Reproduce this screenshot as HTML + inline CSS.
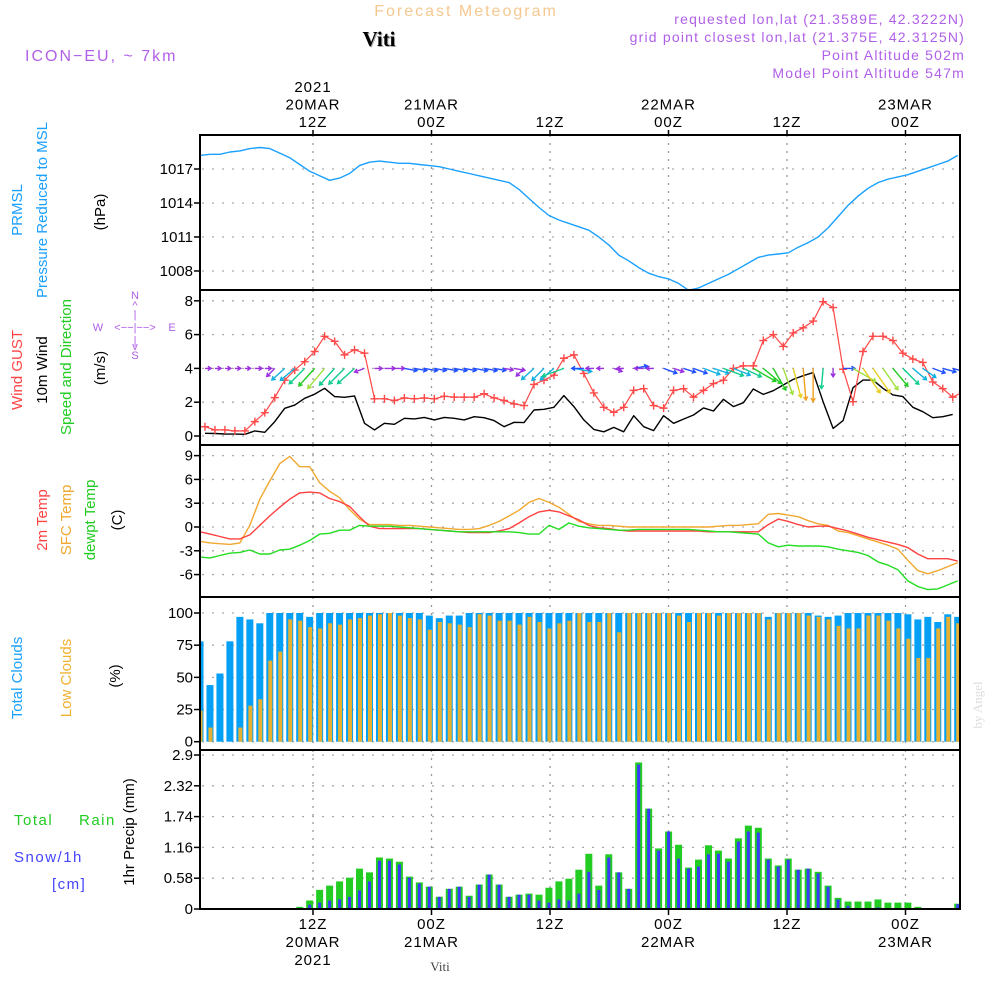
<!DOCTYPE html>
<html><head><meta charset="utf-8">
<style>
html,body{margin:0;padding:0;background:#fff;}
svg{display:block;}
text{font-family:"Liberation Sans",sans-serif;}
</style></head>
<body>
<svg id="chart" xmlns="http://www.w3.org/2000/svg" width="1000" height="1000" viewBox="0 0 1000 1000">
<defs>
<clipPath id="plotclip"><rect x="200" y="135" width="760" height="774"/></clipPath>
</defs>
<g>
<text x="466" y="16" text-anchor="middle" font-size="16" fill="#f5c890" letter-spacing="2">Forecast Meteogram</text>
<text x="380" y="47" text-anchor="middle" font-size="21" font-weight="bold" fill="#aaa" style="font-family:'Liberation Serif',serif">Viti</text>
<text x="379" y="46" text-anchor="middle" font-size="21" font-weight="bold" fill="#000" style="font-family:'Liberation Serif',serif">Viti</text>
<text x="25" y="61" font-size="16" fill="#b060e8" letter-spacing="2">ICON−EU, ~ 7km</text>
<g font-size="14" fill="#b060e8" text-anchor="end" letter-spacing="1.2">
<text x="965" y="24">requested lon,lat (21.3589E, 42.3222N)</text>
<text x="965" y="42">grid point closest lon,lat (21.375E, 42.3125N)</text>
<text x="965" y="60">Point Altitude 502m</text>
<text x="965" y="78">Model Point Altitude 547m</text>
</g>
</g>
<g id="axislabels" font-size="15" fill="#000" text-anchor="middle" letter-spacing="1"></g>
<g id="ylabels">
<text transform="translate(22,210) rotate(-90)" text-anchor="middle" font-size="15" fill="#1aa0ff">PRMSL</text>
<text transform="translate(47,210) rotate(-90)" text-anchor="middle" font-size="15" fill="#1aa0ff">Pressure Reduced to MSL</text>
<text transform="translate(105,212) rotate(-90)" text-anchor="middle" font-size="15" fill="#000">(hPa)</text>
<text transform="translate(22,370) rotate(-90)" text-anchor="middle" font-size="15" fill="#ff4444">Wind GUST</text>
<text transform="translate(47,370) rotate(-90)" text-anchor="middle" font-size="15" fill="#000">10m Wind</text>
<text transform="translate(71,367) rotate(-90)" text-anchor="middle" font-size="15" fill="#22cc22">Speed and Direction</text>
<text transform="translate(105,368) rotate(-90)" text-anchor="middle" font-size="15" fill="#000">(m/s)</text>
<text transform="translate(47,520) rotate(-90)" text-anchor="middle" font-size="15" fill="#ff4444">2m Temp</text>
<text transform="translate(71,520) rotate(-90)" text-anchor="middle" font-size="15" fill="#f0a830">SFC Temp</text>
<text transform="translate(95,520) rotate(-90)" text-anchor="middle" font-size="15" fill="#22cc22">dewpt Temp</text>
<text transform="translate(122,520) rotate(-90)" text-anchor="middle" font-size="15" fill="#000">(C)</text>
<text transform="translate(22,678) rotate(-90)" text-anchor="middle" font-size="15" fill="#1aa0ff">Total Clouds</text>
<text transform="translate(71,678) rotate(-90)" text-anchor="middle" font-size="15" fill="#f0b030">Low Clouds</text>
<text transform="translate(120,676) rotate(-90)" text-anchor="middle" font-size="15" fill="#000">(%)</text>
<text x="14" y="825" font-size="15" fill="#22cc22" letter-spacing="1.5">Total</text>
<text x="79" y="825" font-size="15" fill="#22cc22" letter-spacing="1.5">Rain</text>
<text x="14" y="862" font-size="15" fill="#4444ff" letter-spacing="1.5">Snow/1h</text>
<text x="52" y="889" font-size="15" fill="#4444ff" letter-spacing="1.5">[cm]</text>
<text transform="translate(134,832) rotate(-90)" text-anchor="middle" font-size="15" fill="#000">1hr Precip (mm)</text>
</g>
<g font-size="11" fill="#b060e8" text-anchor="middle">
<text x="135" y="299">N</text>
<text x="135" y="309">^</text>
<text x="135" y="318">|</text>
<text x="135" y="331">&lt;−−|−−&gt;</text>
<text x="98" y="331">W</text>
<text x="172" y="331">E</text>
<text x="135" y="344">|</text>
<text x="135" y="350">v</text>
<text x="135" y="359">S</text>
</g>
<text transform="translate(982,705) rotate(-90)" text-anchor="middle" font-size="13" fill="#ddd" style="font-family:'Liberation Serif',serif">by Angel</text>
<text x="440" y="971" text-anchor="middle" font-size="13" fill="#444" style="font-family:'Liberation Serif',serif">Viti</text>
<g id="grid"></g>
<g id="marks" clip-path="url(#plotclip)"></g>
<g id="frames"></g>
<g id="ticks" font-size="15" fill="#000" text-anchor="end"></g>
</svg>
<script>
// ---- data (hourly, index = hours from start) ----
const pressure = [1018.2,1018.3,1018.3,1018.5,1018.6,1018.8,1018.9,1018.8,1018.4,1018.0,1017.4,1016.8,1016.4,1016.0,1016.2,1016.6,1017.3,1017.6,1017.7,1017.6,1017.5,1017.5,1017.4,1017.3,1017.2,1017.0,1016.8,1016.6,1016.4,1016.2,1016.0,1015.8,1015.2,1014.4,1013.6,1012.9,1012.5,1012.2,1011.9,1011.6,1011.0,1010.3,1009.4,1008.9,1008.3,1007.8,1007.5,1007.3,1006.9,1006.3,1006.5,1006.9,1007.3,1007.7,1008.2,1008.7,1009.2,1009.4,1009.5,1009.6,1010.1,1010.5,1011.0,1011.8,1012.8,1013.8,1014.6,1015.3,1015.8,1016.1,1016.3,1016.5,1016.8,1017.1,1017.4,1017.7,1018.2];
const gust = [0.55,0.36,0.36,0.30,0.30,0.85,1.38,2.27,3.3,3.9,4.4,5.0,5.9,5.6,4.8,5.1,4.9,2.2,2.2,2.1,2.25,2.2,2.25,2.2,2.35,2.3,2.3,2.3,2.5,2.25,2.1,1.9,1.8,3.05,3.3,3.6,4.6,4.8,3.7,2.55,1.7,1.4,1.7,2.7,2.8,1.8,1.65,2.7,2.8,2.3,2.7,3.1,3.3,4.0,4.15,4.15,5.65,6.0,5.3,6.1,6.4,6.8,7.95,7.6,3.95,2.03,5.0,5.9,5.9,5.65,4.9,4.55,4.35,3.2,2.8,2.3,2.6];
const wind10 = [0.16,0.15,0.12,0.11,0.1,0.3,0.22,0.85,1.64,1.83,2.23,2.48,2.82,2.33,2.29,2.37,0.75,0.36,0.75,0.69,1.05,1.01,1.1,0.95,1.1,1.05,0.95,1.14,1.08,0.91,0.55,0.81,0.79,1.54,1.58,1.7,2.39,1.74,0.95,0.39,0.25,0.51,0.25,1.2,0.55,0.32,1.2,0.75,1.0,1.24,1.66,1.48,2.17,1.74,1.97,2.78,2.46,2.68,3.02,3.35,3.57,3.75,2.03,0.45,0.91,2.86,3.31,3.31,2.82,2.43,2.33,1.7,1.44,1.08,1.14,1.28];
const windDir = [0,0,0,0,0,0,0,135,138,140,135,132,130,132,135,138,160,0,0,0,10,10,10,10,10,10,10,10,10,10,10,10,135,138,135,140,160,10,180,180,180,20,180,-10,180,180,20,18,18,20,20,18,20,22,25,30,40,60,70,75,85,90,95,90,0,30,55,55,55,50,45,40,35,20,15,15];
const temp2m = [-0.6,-0.9,-1.2,-1.5,-1.5,-1.0,0.2,1.4,2.5,3.5,4.3,4.4,4.3,3.6,3.2,2.6,1.3,0.1,-0.2,-0.2,-0.2,-0.2,-0.2,-0.3,-0.4,-0.5,-0.6,-0.7,-0.7,-0.7,-0.5,-0.2,0.5,1.3,1.9,2.1,1.9,1.4,0.9,0.2,-0.1,-0.2,-0.4,-0.5,-0.5,-0.5,-0.5,-0.5,-0.5,-0.5,-0.5,-0.6,-0.6,-0.6,-0.6,-0.6,-0.6,0.3,1.0,0.7,0.3,0.0,0.1,0.1,-0.2,-0.5,-0.9,-1.3,-1.6,-1.9,-2.2,-2.6,-3.4,-4.0,-4.0,-4.0,-4.3];
const tempSfc = [-1.8,-2.0,-2.1,-2.2,-2.0,0.2,3.5,5.8,8.0,8.9,7.6,7.6,5.6,4.5,3.7,2.2,1.0,0.3,0.3,0.3,0.2,0.2,0.1,0.0,-0.1,-0.2,-0.3,-0.3,-0.2,0.2,0.7,1.4,2.1,3.1,3.6,3.1,2.5,1.6,0.7,0.4,0.2,0.2,0.1,0.0,0.0,0.0,0.0,0.0,0.0,0.0,0.0,0.0,0.1,0.2,0.2,0.3,0.4,1.6,1.7,1.5,1.3,0.8,0.4,0.2,-0.5,-0.7,-1.1,-1.5,-1.9,-2.3,-2.8,-4.2,-5.5,-5.9,-5.5,-5.0,-4.5];
const dewpt = [-3.8,-3.9,-3.6,-3.3,-3.2,-2.9,-3.4,-3.4,-2.9,-2.8,-2.3,-1.7,-0.9,-0.8,-0.4,-0.4,0.2,0.1,0.1,0.1,0.0,-0.1,-0.2,-0.3,-0.4,-0.5,-0.6,-0.6,-0.6,-0.6,-0.6,-0.6,-0.7,-0.9,-0.9,0.2,-0.3,0.5,0.1,-0.1,-0.2,-0.3,-0.4,-0.4,-0.3,-0.3,-0.3,-0.3,-0.3,-0.3,-0.4,-0.5,-0.6,-0.6,-0.7,-0.8,-0.9,-2.0,-2.5,-2.3,-2.4,-2.4,-2.4,-2.5,-2.8,-3.0,-3.2,-3.6,-4.4,-4.8,-5.4,-6.8,-7.5,-7.9,-7.8,-7.3,-6.8];
const totalClouds = [78,44,53,78,97,95,92,100,100,100,100,97,100,100,100,100,100,100,100,100,100,100,100,98,96,98,98,100,100,100,100,100,100,100,100,100,100,100,100,100,100,100,100,100,100,100,100,100,100,100,100,100,100,100,100,100,100,97,100,100,100,100,98,97,98,100,100,100,100,100,100,99,95,97,93,99,97];
const lowClouds = [24,11,0,0,11,28,33,63,70,95,94,89,88,92,91,95,96,98,99,100,98,96,95,87,93,92,91,89,99,98,94,94,91,97,93,88,92,94,100,93,93,100,85,100,100,100,100,100,98,93,100,100,98,100,100,100,100,95,100,100,100,98,97,95,90,88,88,98,98,94,88,80,65,65,88,97,92];
const precipStart = 10;
const totalRain = [0.04,0.16,0.36,0.44,0.52,0.59,0.76,0.69,0.97,0.95,0.89,0.61,0.50,0.42,0.23,0.38,0.42,0.25,0.46,0.65,0.46,0.23,0.27,0.29,0.27,0.40,0.52,0.57,0.74,1.04,0.44,1.03,0.69,0.38,2.76,1.89,1.14,1.46,1.21,0.78,0.93,1.20,1.10,0.95,1.33,1.57,1.53,0.95,0.82,0.95,0.74,0.76,0.70,0.44,0.21,0.14,0.14,0.14,0.18,0.12,0.12,0.12,0.04,0,0,0,0.10];
const snow = [0.02,0.08,0.12,0.16,0.18,0.23,0.35,0.52,0.91,0.91,0.84,0.59,0.48,0.42,0.23,0.38,0.42,0.23,0.46,0.65,0.46,0.23,0.27,0.27,0.16,0.12,0.18,0.16,0.29,0.70,0.36,0.97,0.69,0.38,2.72,1.89,1.10,1.46,0.95,0.76,0.80,1.03,1.04,0.89,1.27,1.46,1.44,0.93,0.80,0.93,0.74,0.76,0.67,0.42,0.18,0.06,0,0,0.03,0,0,0,0,0,0,0,0.09];
const pTicks = [1017,1014,1011,1008];
const wTicks = [8,6,4,2,0];
const tTicks = [9,6,3,0,-3,-6];
const cTicks = [100,75,50,25,0];
const rTicks = ["2.9","2.32","1.74","1.16","0.58","0"];
const gridTimes = [12,24,36,48,60,72];
const topLabels = [["2021","20MAR","12Z"],["","21MAR","00Z"],["","","12Z"],["","22MAR","00Z"],["","","12Z"],["","23MAR","00Z"]];
const bottomLabels = [["12Z","20MAR","2021"],["00Z","21MAR",""],["12Z","",""],["00Z","22MAR",""],["12Z","",""],["00Z","23MAR",""]];

// ---- axis functions ----
const xT = t => 200 + t*9.97;
const xG = t => 313 + (t-12)*9.875;
const yP = v => 169 + (1017-v)*11.33;
const yW = v => 436 - v*16.9;
const yT = v => 527 - v*7.93;
const yC = v => 741.7 - v*1.287;
const yR = v => 909 - v*53.1;
const panels = [[135,290],[290,445],[445,597],[597,750],[750,909]];

const NS="http://www.w3.org/2000/svg";
function mk(tag, attrs, parent){const e=document.createElementNS(NS,tag);for(const k in attrs)e.setAttribute(k,attrs[k]);parent.appendChild(e);return e;}
const marks=document.getElementById('marks'), grid=document.getElementById('grid'), frames=document.getElementById('frames'), ticks=document.getElementById('ticks'), axl=document.getElementById('axislabels');

// grid
panels.forEach(p=>{
  gridTimes.forEach(t=>{
    const l=mk('line',{x1:xG(t),x2:xG(t),y1:p[0],y2:p[1],stroke:'#999','stroke-width':1.3,'stroke-dasharray':'2,6'},grid);
    
    
  });
});
function hgrid(vals,f){vals.forEach(v=>{const l=mk('line',{x1:202,x2:958,y1:f(v),y2:f(v),stroke:'#aaa','stroke-width':1.3,'stroke-dasharray':'2,8'},grid);
  
  });}
hgrid(pTicks,yP); hgrid(wTicks,yW); hgrid(tTicks,yT); hgrid(cTicks,yC); hgrid(rTicks.map(Number),yR);

// ticks
function yt(vals,f,fmt){vals.forEach(v=>{const y=f(Number(v));
  const tl=mk('line',{x1:194,x2:200,y1:y,y2:y,stroke:'#000','stroke-width':1.5},ticks);
  
  
  const tx=mk('text',{x:193,y:y+5},ticks); tx.textContent=fmt?fmt(v):String(v);
  
  });}
yt(pTicks,yP); yt(wTicks,yW); yt(tTicks,yT); yt(cTicks,yC); yt(rTicks,yR);

// time labels
gridTimes.forEach((t,i)=>{
  const x=xG(t);
  topLabels[i].forEach((s,j)=>{ if(!s)return; const e=mk('text',{x:x,y:92+j*17.5},axl); e.textContent=s;
    
    });
  bottomLabels[i].forEach((s,j)=>{ if(!s)return; const e=mk('text',{x:x,y:929+j*18},axl); e.textContent=s;
    
    });
  const a=mk('line',{x1:x,x2:x,y1:130,y2:135,stroke:'#000','stroke-width':1.5},axl);
  
  
  const b=mk('line',{x1:x,x2:x,y1:909,y2:915,stroke:'#000','stroke-width':1.5},axl);
  
  
});

function line(arr,f,color,off,name,w){
  const pts=arr.map((v,i)=>xT(i+off).toFixed(1)+','+f(v).toFixed(1)).join(' ');
  const e=mk('polyline',{points:pts,fill:'none',stroke:color,'stroke-width':w||1.4,'stroke-linejoin':'round'},marks);
  
  
}
// pressure
line(pressure,yP,'#1aa0ff',0,'pressure-line');
// clouds
totalClouds.forEach((v,i)=>{const x=xT(i);
  const r=mk('rect',{x:x-3.5,y:yC(v),width:7,height:yC(0)-yC(v),fill:'#05a0f5'},marks);
  
  });
lowClouds.forEach((v,i)=>{const x=xT(i);
  const r=mk('rect',{x:x-1.5,y:yC(v),width:4,height:yC(0)-yC(v),fill:'#e8b030'},marks);
  
  });
// precip
totalRain.forEach((v,i)=>{const x=xT(i+precipStart);
  const r=mk('rect',{x:x-3.5,y:yR(v),width:7,height:yR(0)-yR(v),fill:'#22cc22'},marks);
  
  });
snow.forEach((v,i)=>{const x=xT(i+precipStart);
  const r=mk('rect',{x:x-1.5,y:yR(v),width:3,height:yR(0)-yR(v),fill:'#3a3aff'},marks);
  
  });
// temps
line(tempSfc,yT,'#f0a830',0,'sfc-temp-line');
line(temp2m,yT,'#ff4040',0,'2m-temp-line');
line(dewpt,yT,'#22dd22',0,'dewpoint-line');
// wind
line(wind10,yW,'#000',0.5,'wind-10m-line');
line(gust,yW,'#ff4848',0.5,'gust-line',1.2);
gust.forEach((v,i)=>{const x=xT(i+0.5),y=yW(v);
  const p=mk('path',{d:`M${x-4},${y}H${x+4}M${x},${y-4}V${y+4}`,stroke:'#ff4848','stroke-width':1.4},marks);
  
  });
function windColor(s){
  if(s<0.9) return '#9a30e0';
  if(s<1.4) return '#2050ff';
  if(s<1.9) return '#10b0e0';
  if(s<2.4) return '#10cc90';
  if(s<2.8) return '#20cc20';
  if(s<3.2) return '#a0e040';
  if(s<3.5) return '#e8d020';
  return '#f0a020';
}
windDir.forEach((d,i)=>{
  const s=wind10[i]; const x=xT(i+0.5), y=yW(4);
  const L=5+7.5*s, a=d*Math.PI/180;
  const x2=x+L*Math.cos(a), y2=y+L*Math.sin(a);
  const h1=a+Math.PI*0.82, h2=a-Math.PI*0.82;
  const c=windColor(s);
  const p=mk('path',{d:`M${x},${y}L${x2},${y2}M${x2+4*Math.cos(h1)},${y2+4*Math.sin(h1)}L${x2},${y2}L${x2+4*Math.cos(h2)},${y2+4*Math.sin(h2)}`,stroke:c,fill:'none','stroke-width':1.4},marks);
  
  
});
// frames
panels.forEach(p=>{
  const r=mk('rect',{x:200,y:p[0],width:760,height:p[1]-p[0],fill:'none',stroke:'#000','stroke-width':2},frames);
  
  
});
</script>
</body></html>
